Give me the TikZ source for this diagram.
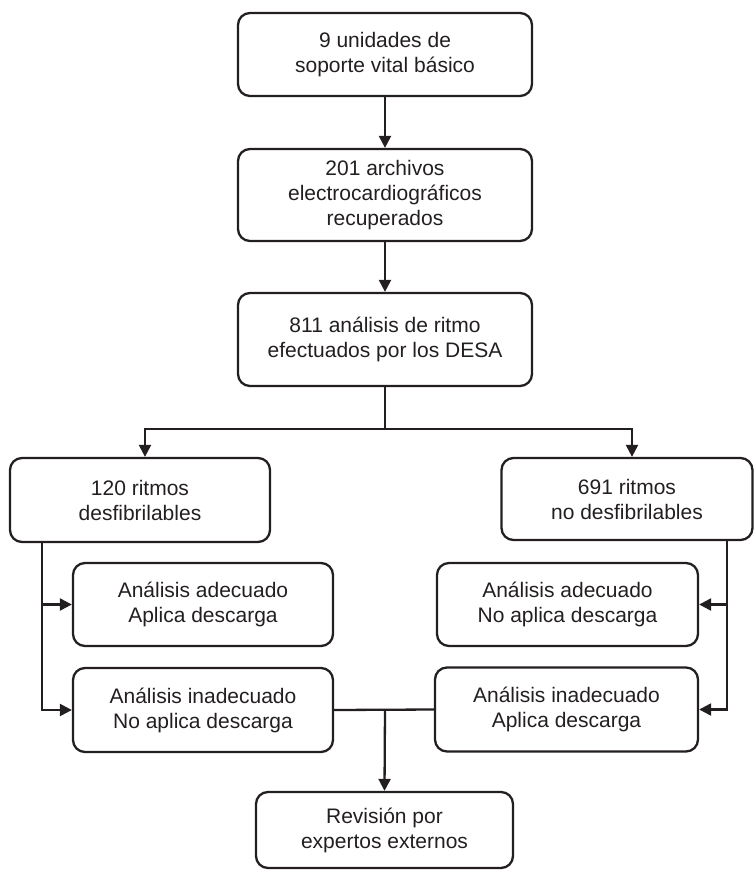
\documentclass[tikz,border=0pt]{standalone}
\usepackage{fontspec}
\setmainfont{Liberation Sans}
\usetikzlibrary{arrows.meta,calc}
\definecolor{ink}{HTML}{231F20}
\begin{document}
\begin{tikzpicture}[x=1pt,y=-1pt,
  box/.style={draw=ink, line width=2.3pt, rounded corners=12pt, align=center,
    font=\fontsize{21}{25}\selectfont, inner sep=0pt, text=ink},
  conn/.style={draw=ink, line width=2.3pt},
  arr/.style={conn, -{Triangle[length=12pt,width=12pt]}}]
\useasboundingbox (0,0) rectangle (754,871);
\node[box, minimum width=294pt, minimum height=83pt] (b1) at (385,54.5) {9 unidades de\\soporte vital básico};
\node[box, minimum width=294pt, minimum height=92pt] (b2) at (385,195) {201 archivos\\electrocardiográficos\\recuperados};
\node[box, minimum width=294pt, minimum height=93pt] (b3) at (385,339.5) {811 análisis de ritmo\\efectuados por los DESA};
\node[box, minimum width=260pt, minimum height=84pt] (b4) at (140,500) {120 ritmos\\desfibrilables};
\node[box, minimum width=251pt, minimum height=82pt] (b5) at (627,499) {691 ritmos\\no desfibrilables};
\node[box, minimum width=260pt, minimum height=83pt] (b6) at (203,604.5) {Análisis adecuado\\Aplica descarga};
\node[box, minimum width=260pt, minimum height=84pt] (b7) at (203,710) {Análisis inadecuado\\No aplica descarga};
\node[box, minimum width=261pt, minimum height=83pt] (b8) at (567.5,604.5) {Análisis adecuado\\No aplica descarga};
\node[box, minimum width=263pt, minimum height=84pt] (b9) at (566.5,709.5) {Análisis inadecuado\\Aplica descarga};
\node[box, minimum width=257pt, minimum height=76pt] (b10) at (384.5,830) {Revisión por\\expertos externos};
\draw[arr] (b1) -- (b2);
\draw[arr] (b2) -- (b3);
\coordinate (j) at (385,429);
\coordinate (jl) at (145,429);
\coordinate (jr) at (632,429);
\draw[conn] (b3.south) -- (j);
\draw[conn, line cap=rect] (jl) -- (jr);
\draw[arr] (jl) -- (jl |- b4.north);
\draw[arr] (jr) -- (jr |- b5.north);
\coordinate (lv) at (42,0);
\draw[conn] (lv |- b4.south) -- (lv |- b7.west);
\draw[arr] ([xshift=-1.15pt]lv |- b6.west) -- (b6.west);
\draw[arr] ([xshift=-1.15pt]lv |- b7.west) -- (b7.west);
\coordinate (rv) at (727,0);
\draw[conn] (rv |- b5.south) -- (rv |- b9.east);
\draw[arr] ([xshift=1.15pt]rv |- b8.east) -- (b8.east);
\draw[arr] ([xshift=1.15pt]rv |- b9.east) -- (b9.east);
\draw[conn] (b7.east) -- (b9.west);
\coordinate (m) at (385,0);
\draw[arr] (m |- b7.east) -- (b10.north);
\end{tikzpicture}
\end{document}
